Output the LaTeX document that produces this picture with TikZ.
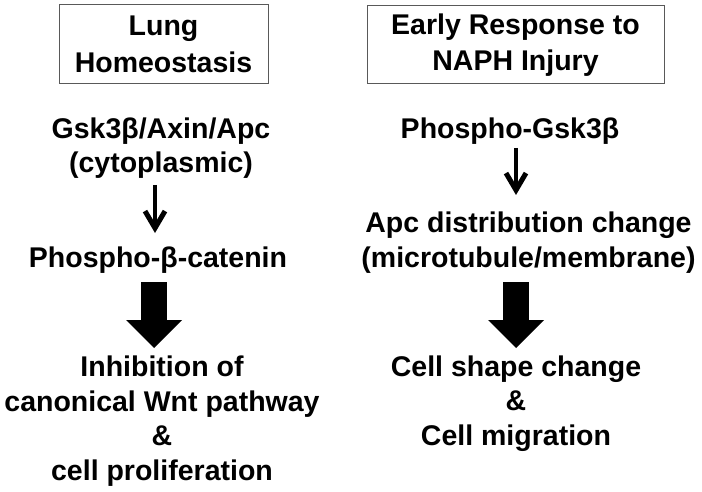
\documentclass[tikz,border=0pt]{standalone}
\usepackage{fontspec}
\setmainfont{Liberation Sans}
\usetikzlibrary{arrows.meta}
\begin{document}
\begin{tikzpicture}[x=1pt,y=-1pt,
  lbl/.style={font=\bfseries\fontsize{28.5}{34.5}\selectfont, align=center, inner sep=0pt, anchor=base},
  titlebox/.style={draw=black!65, line width=1pt, font=\bfseries\fontsize{28.5}{36.5}\selectfont, align=center, inner sep=0pt},
  thinarrow/.style={line width=4.5pt, -{Straight Barb[length=17pt,width=20pt,line width=5pt,line join=miter,line cap=butt]}},
  blockarrow/.style={line width=26pt, -{Triangle[length=28pt,width=56pt,line width=0pt]}}
]
\useasboundingbox (0,0) rectangle (702,492);
\fill[white] (0,0) rectangle (702,492);
% title boxes
\node[titlebox, minimum width=209pt, minimum height=79pt] (boxL) at (163.5,44.5) {Lung\\Homeostasis};
\node[titlebox, minimum width=297pt, minimum height=78pt] (boxR) at (515.5,45) {Early Response to\\NAPH Injury};
% left column (anchor base = baseline of last line)
\node[lbl] (gsk) at (161,173) {Gsk3β/Axin/Apc\\(cytoplasmic)};
\node[lbl] (pbc) at (158,267) {Phospho-β-catenin};
\node[lbl] (inh) at (162,480) {Inhibition of\\canonical Wnt pathway\\\&\\cell proliferation};
% right column
\node[lbl] (pg) at (510,139) {Phospho-Gsk3β};
\node[lbl] (apc) at (528.5,267) {Apc distribution change\\(microtubule/membrane)};
\node[lbl] (cell) at (516,445) {Cell shape change\\\&\\Cell migration};
% arrow ends
\coordinate (l1s) at (155,185);
\coordinate (l1e) at (155,233);
\coordinate (l2s) at (154,282);
\coordinate (l2e) at (154,348);
\coordinate (r1s) at (516,148);
\coordinate (r1e) at (516,195);
\coordinate (r2s) at (516,282);
\coordinate (r2e) at (516,348);
\draw[thinarrow] (l1s) -- (l1e);
\draw[thinarrow] (r1s) -- (r1e);
\draw[blockarrow] (l2s) -- (l2e);
\draw[blockarrow] (r2s) -- (r2e);
\end{tikzpicture}
\end{document}
